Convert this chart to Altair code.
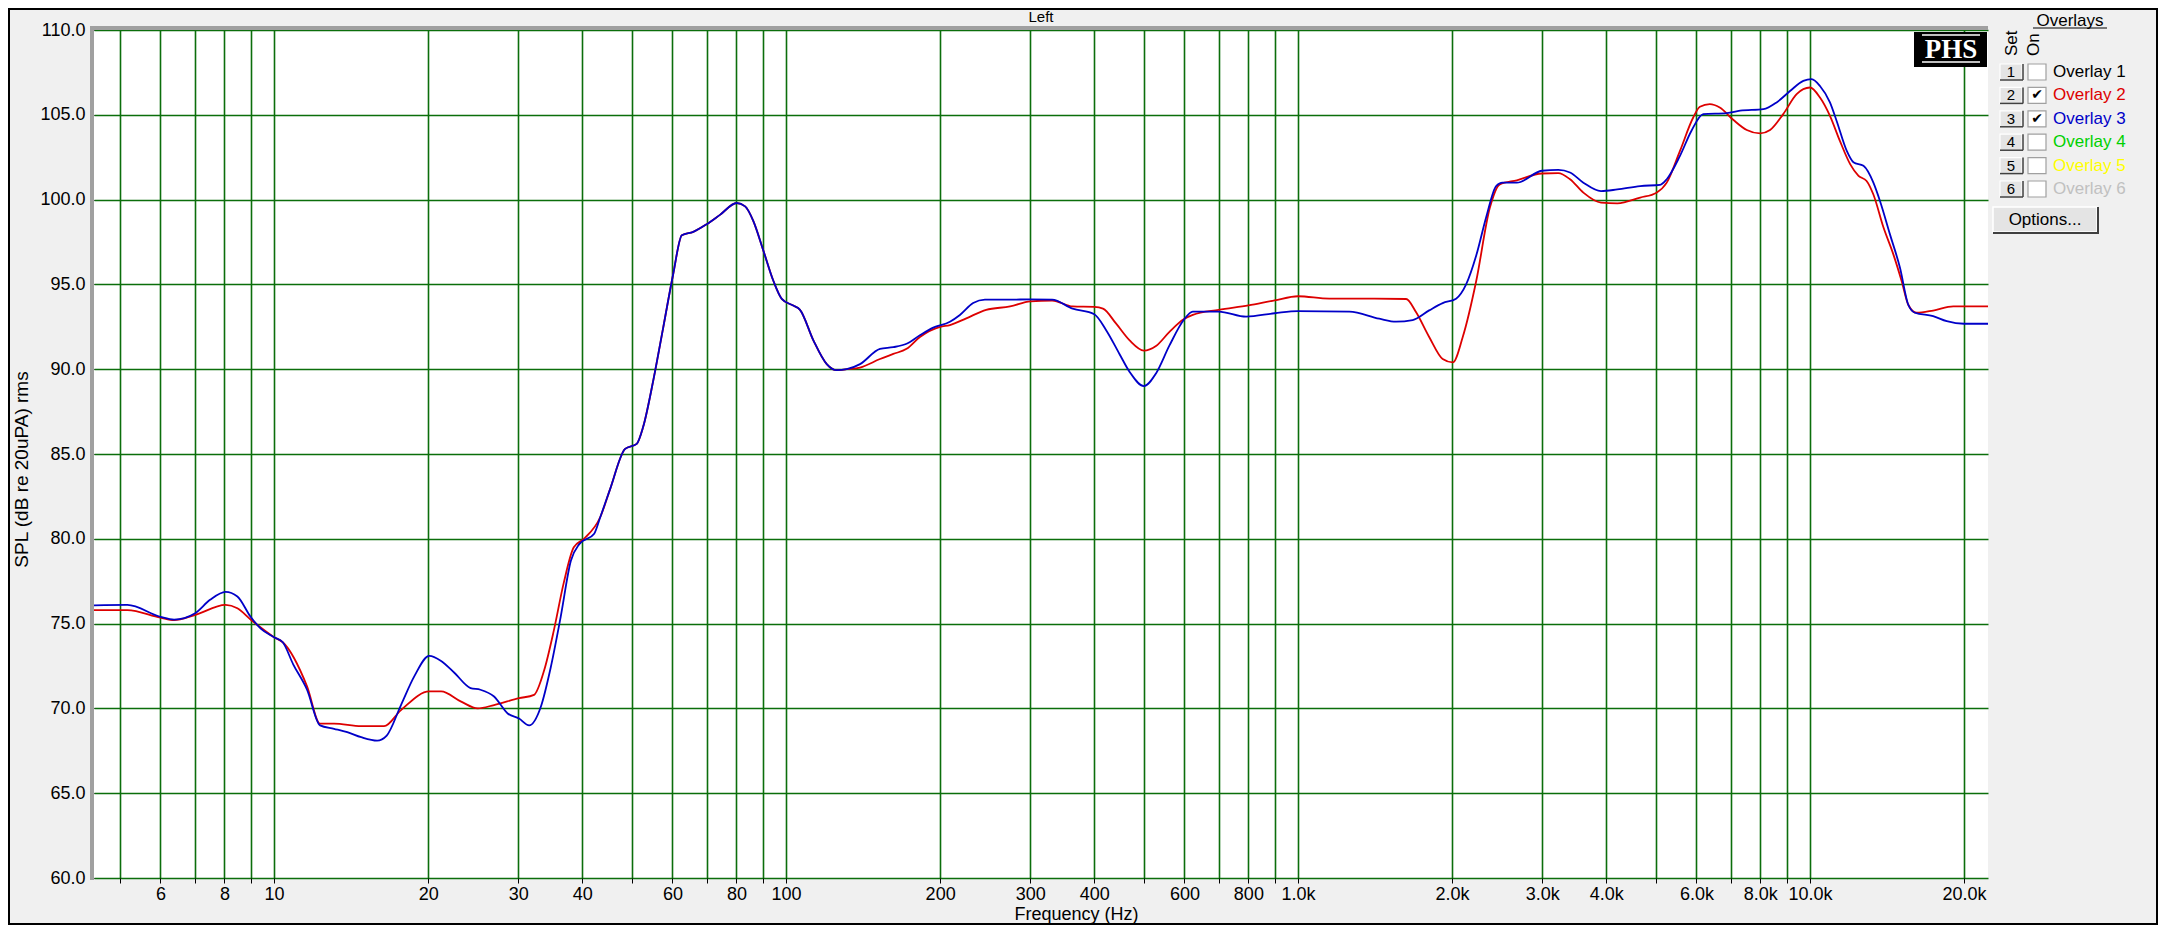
import altair as alt
import pandas as pd

# Overlay 2 (red) - frequency in Hz, level in dB
red_freq = [4.45, 5.17, 6.0, 6.38, 7.0, 8.04, 8.48, 9.0, 10.0, 10.4, 11.6, 12.3, 13.1, 14.8, 16.4,
            17.7, 20.1, 21.2, 23.2, 25.0, 26.9, 30.1, 32.2, 33.7, 35.2, 36.8, 38.5, 40.3,
            43.4, 45.3, 48.5, 51.1, 52.6, 55.1, 57.6, 60.2, 62.6, 65.9, 70.0, 74.3, 80.1, 83.2,
            86.3, 90.3, 94.5, 98.1, 103.3, 106.5, 113.1, 120.1, 125.6, 131.4, 139.5, 152.6, 162,
            172, 182.6, 200, 209, 225, 246, 274, 300, 331, 363, 400, 416, 441, 469, 500, 528,
            561, 598, 623, 700, 800, 900, 1000, 1151, 1338, 1626, 1700, 1804, 1917, 2006, 2098,
            2229, 2369, 2479, 2676, 2995, 3224, 3399, 3609, 3907, 4205, 4660, 5015, 5251, 5573,
            5915, 6095, 6372, 6665, 7089, 7526, 7990, 8357, 8866, 9418, 10000, 10460, 10940,
            11440, 11980, 12440, 12900, 13300, 13920, 14550, 15100, 15560, 16150, 17400, 19050,
            20000, 22270]
red_spl = [75.8, 75.8, 75.35, 75.2, 75.5, 76.1, 75.9, 75.24, 74.2, 73.9, 71.3, 69.1, 69.1, 68.95, 68.95,
           69.9, 71.0, 71.0, 70.4, 70.0, 70.2, 70.6, 70.8, 72.25, 74.6, 77.4, 79.5, 80.0,
           81.3, 82.9, 85.3, 85.6, 86.6, 89.4, 92.5, 95.6, 97.9, 98.1, 98.55, 99.1, 99.8, 99.6,
           98.75, 97.0, 95.2, 94.15, 93.75, 93.5, 91.7, 90.3, 89.94, 90.0, 90.1, 90.6, 90.9,
           91.2, 91.9, 92.5, 92.6, 93.0, 93.5, 93.7, 94.0, 94.05, 93.7, 93.67, 93.57, 92.7, 91.7, 91.1, 91.37,
           92.2, 92.94, 93.2, 93.5, 93.76, 94.06, 94.3, 94.16, 94.16, 94.14, 93.37, 91.9, 90.6, 90.4, 91.9,
           95.2, 99.5, 100.9, 101.14, 101.54, 101.56, 101.2, 100.41, 99.82, 99.78, 100.12, 100.41, 101.0, 102.87,
           104.84, 105.47, 105.63, 105.43, 104.69, 104.1, 103.9, 104.1, 105.04, 106.22, 106.61, 106.02, 104.94,
           103.46, 102.09, 101.4, 101.1, 100.3, 98.35, 96.77, 95.2, 93.8, 93.33, 93.46, 93.7,
           93.7, 93.7]

# Overlay 3 (blue)
blue_freq = [4.45, 5.17, 6.0, 6.38, 7.0, 7.5, 8.04, 8.48, 9.0, 9.42, 10.0, 10.4, 10.9, 11.6, 12.3,
             13.1, 13.9, 14.8, 15.9, 16.6, 17.7, 18.8, 20.1, 21.2, 22.5, 24.2, 25.3, 26.9, 28.6,
             30.1, 31.5, 33.2, 34.7, 36.3, 38.0, 39.5, 42.2,
             43.4, 45.3, 48.5, 51.1, 52.6, 55.1, 57.6, 60.2, 62.6, 65.9, 70.0, 74.3, 80.1, 83.2,
             86.3, 90.3, 94.5, 98.1, 103.3, 106.5, 113.1, 120.1, 125.6, 131.4, 139.5, 152.6, 162,
             172, 182.6, 193.9, 209, 218.6, 232, 244.6, 274, 300, 331, 363, 400, 422, 448, 469, 500,
             528, 561, 598, 623, 700, 792, 900, 1000, 1260, 1441, 1554, 1675, 1804, 1917, 2036,
             2130, 2229, 2331, 2438, 2509, 2676, 2995, 3224, 3399, 3609, 3907, 4205, 4660, 5097,
             5251, 5573, 5869, 6188, 6879, 7303, 8110, 8607, 9141, 9705, 10075, 10460, 10940,
             11270, 11800, 12160, 12720, 13300, 13700, 14330, 14990, 15560, 16030, 17400, 18500,
             20000, 22270]
blue_spl = [76.08, 76.1, 75.4, 75.24, 75.6, 76.4, 76.87, 76.6, 75.4, 74.7, 74.2, 73.9, 72.6, 71.1, 69.0,
            68.8, 68.6, 68.3, 68.1, 68.4, 70.2, 71.9, 73.1, 72.8, 72.1, 71.2, 71.1, 70.7, 69.7,
            69.4, 69.0, 70.1, 72.4, 75.4, 78.7, 79.7, 80.3,
            81.3, 82.9, 85.3, 85.6, 86.6, 89.4, 92.5, 95.6, 97.9, 98.1, 98.55, 99.1, 99.8, 99.6,
            98.75, 97.0, 95.2, 94.15, 93.75, 93.5, 91.7, 90.3, 89.94, 90.0, 90.3, 91.2, 91.3,
            91.5, 92.0, 92.45, 92.8, 93.2, 93.9, 94.1, 94.1, 94.12, 94.1, 93.57, 93.24, 92.3, 90.9, 89.84, 89.0,
            89.75, 91.4, 92.9, 93.4, 93.4, 93.1, 93.3, 93.43, 93.4, 92.98, 92.8, 92.9, 93.47, 93.9, 94.16,
            95.0, 96.7, 98.96, 100.8, 101.0, 101.0, 101.7, 101.75, 101.6, 101.0, 100.5, 100.6, 100.8, 100.87,
            101.2, 102.58, 104.06, 105.04, 105.1, 105.24, 105.33, 105.73, 106.4, 107.0, 107.1, 106.7, 105.73,
            104.65, 102.87, 102.2, 101.99, 101.0, 99.92, 97.95, 95.98, 93.8, 93.33, 93.13, 92.83,
            92.68, 92.68]

grid_freqs = [5, 6, 7, 8, 9, 10, 20, 30, 40, 50, 60, 70, 80, 90, 100, 200, 300, 400, 500, 600, 700,
              800, 900, 1000, 2000, 3000, 4000, 5000, 6000, 7000, 8000, 9000, 10000, 20000]
labeled_freqs = [6, 8, 10, 20, 30, 40, 60, 80, 100, 200, 300, 400, 600, 800, 1000, 2000, 3000,
                 4000, 6000, 8000, 10000, 20000]
spl_ticks = [60, 65, 70, 75, 80, 85, 90, 95, 100, 105, 110]

overlay_names = ['Overlay 1', 'Overlay 2', 'Overlay 3', 'Overlay 4', 'Overlay 5', 'Overlay 6']
overlay_colors = ['#000000', '#dd0000', '#0000c8', '#00d000', '#ffff00', '#c0c0c0']
overlay_checked = [False, True, True, False, False, False]

W, H = 1894, 848
FONT = 'Liberation Sans'
GRID = '#0b6e0b'

df = pd.concat([
    pd.DataFrame({'freq': red_freq, 'spl': red_spl, 'overlay': 'Overlay 2'}),
    pd.DataFrame({'freq': blue_freq, 'spl': blue_spl, 'overlay': 'Overlay 3'}),
])

label_list = ','.join(str(v) for v in labeled_freqs)
x_label_expr = (f"indexof([{label_list}], datum.value) >= 0 ? "
                "(datum.value >= 1000 ? format(datum.value / 1000, '.1f') + 'k' : format(datum.value, 'd')) : ''")

x_enc = alt.X('freq:Q',
              scale=alt.Scale(type='log', domain=[4.45, 22270], nice=False),
              axis=alt.Axis(values=grid_freqs, labelExpr=x_label_expr, title='Frequency (Hz)',
                            grid=True, gridColor=GRID, gridWidth=1.6, gridOpacity=1,
                            domain=False, tickSize=5, tickColor='#000', labelPadding=2,
                            labelFont=FONT, labelFontSize=18, labelColor='#000',
                            labelOverlap=False, labelFlush=False,
                            titleFont=FONT, titleFontSize=18, titleFontWeight='normal',
                            titleColor='#000', titleX=982, titleY=36, titleAlign='center',
                            titleBaseline='middle'))
y_enc = alt.Y('spl:Q',
              scale=alt.Scale(domain=[60, 110], nice=False, zero=False),
              axis=alt.Axis(values=spl_ticks, format='.1f', title='SPL (dB re 20uPA) rms',
                            grid=True, gridColor=GRID, gridWidth=1.6, gridOpacity=1,
                            domain=False, tickSize=4, tickColor='#000', labelPadding=5,
                            labelFont=FONT, labelFontSize=18, labelColor='#000',
                            titleFont=FONT, titleFontSize=19, titleFontWeight='normal',
                            titleColor='#000', titleAngle=270, titleX=-73, titleY=439,
                            titleAlign='center', titleBaseline='middle'))

base = alt.Chart(df).encode(x=x_enc, y=y_enc)
red = base.transform_filter(alt.datum.overlay == 'Overlay 2').mark_line(
    color='#dd0000', strokeWidth=1.8, interpolate='monotone', clip=True)
blue = base.transform_filter(alt.datum.overlay == 'Overlay 3').mark_line(
    color='#0000c8', strokeWidth=1.8, interpolate='monotone', clip=True)
curves = alt.layer(red, blue)

one = pd.DataFrame({'a': [0]})
deco = alt.Chart(one)

# panel title, 3D frame bits and outer border
title_txt = deco.mark_text(text='Left', font=FONT, fontSize=15, baseline='middle').encode(
    x=alt.value(W / 2), y=alt.value(-13))
left_bar = deco.mark_rule(color='#a0a0a0', strokeWidth=4).encode(
    x=alt.value(-2), y=alt.value(-4), y2=alt.value(H + 2))
top_bar = deco.mark_rule(color='#a0a0a0', strokeWidth=4).encode(
    x=alt.value(-4), x2=alt.value(W), y=alt.value(-2))
border = deco.mark_rect(fillOpacity=0, stroke='#000', strokeWidth=2).encode(
    x=alt.value(-85), x2=alt.value(2063), y=alt.value(-21), y2=alt.value(894))

# PHS logo
logo_box = deco.mark_rect(color='#000').encode(
    x=alt.value(1820), x2=alt.value(1893), y=alt.value(2), y2=alt.value(37))
logo_text = deco.mark_text(text='PHS', font='Liberation Serif', fontSize=27, fontWeight='bold',
                           color='#fff', baseline='middle').encode(x=alt.value(1857), y=alt.value(20))
logo_over = deco.mark_rule(color='#fff', strokeWidth=1.5).encode(
    x=alt.value(1828), x2=alt.value(1886), y=alt.value(5))
logo_under = deco.mark_rule(color='#fff', strokeWidth=1.5).encode(
    x=alt.value(1828), x2=alt.value(1886), y=alt.value(32))

# overlay panel
head = deco.mark_text(text='Overlays', font=FONT, fontSize=17, baseline='middle').encode(
    x=alt.value(1976), y=alt.value(-9))
head_line = deco.mark_rule(color='#000', strokeWidth=1).encode(
    x=alt.value(1939), x2=alt.value(2013), y=alt.value(-2))
set_txt = deco.mark_text(text='Set', font=FONT, fontSize=17, angle=270, align='left',
                         baseline='middle').encode(x=alt.value(1918), y=alt.value(26))
on_txt = deco.mark_text(text='On', font=FONT, fontSize=17, angle=270, align='left',
                        baseline='middle').encode(x=alt.value(1940), y=alt.value(26))
opt_btn = deco.mark_rect(fill='#e4e4e4', stroke='#fff', strokeWidth=1.5).encode(
    x=alt.value(1899), x2=alt.value(2003), y=alt.value(177), y2=alt.value(202))
opt_shadow_b = deco.mark_rule(color='#404040', strokeWidth=2).encode(
    x=alt.value(1899), x2=alt.value(2004), y=alt.value(203))
opt_shadow_r = deco.mark_rule(color='#404040', strokeWidth=2).encode(
    x=alt.value(2004), y=alt.value(177), y2=alt.value(204))
opt_txt = deco.mark_text(text='Options...', font=FONT, fontSize=17, baseline='middle').encode(
    x=alt.value(1951), y=alt.value(189.5))

legend_df = pd.DataFrame({'name': overlay_names, 'color': overlay_colors,
                          'checked': overlay_checked, 'row': list(range(6))})
rows = alt.Chart(legend_df).transform_calculate(
    cy='42 + datum.row * 23.4', num='datum.row + 1',
    btop='42 + datum.row * 23.4 - 8', bbot='42 + datum.row * 23.4 + 8')
ypos = alt.Y('cy:Q', scale=None, axis=None)
btn = rows.mark_rect(fill='#e4e4e4', stroke='#fff', strokeWidth=1.2).encode(
    x=alt.value(1906), x2=alt.value(1928),
    y=alt.Y('btop:Q', scale=None, axis=None), y2='bbot:Q')
btn_shadow_b = rows.mark_rule(color='#404040', strokeWidth=1.5).encode(
    x=alt.value(1906), x2=alt.value(1929), y=alt.Y('bbot:Q', scale=None, axis=None))
btn_shadow_r = rows.mark_rule(color='#404040', strokeWidth=1.5).encode(
    x=alt.value(1929), y=alt.Y('btop:Q', scale=None, axis=None), y2='bbot:Q')
btn_txt = rows.mark_text(font=FONT, fontSize=15, baseline='middle').encode(
    x=alt.value(1917), y=ypos, text='num:N')
box = rows.mark_rect(fill='#fff', stroke='#a0a0a0', strokeWidth=1.2).encode(
    x=alt.value(1934), x2=alt.value(1952),
    y=alt.Y('btop:Q', scale=None, axis=None), y2='bbot:Q')
tick = rows.transform_filter('datum.checked').mark_text(
    text='\u2714', font='DejaVu Sans', fontSize=14, baseline='middle', color='#000').encode(
    x=alt.value(1943), y=ypos)
names = rows.mark_text(font=FONT, fontSize=17, align='left', baseline='middle').encode(
    x=alt.value(1959), y=ypos, text='name:N', color=alt.Color('color:N', scale=None, legend=None))

chart = alt.layer(
    curves, title_txt, left_bar, top_bar, border, logo_box, logo_text, logo_over, logo_under,
    head, head_line, set_txt, on_txt, opt_btn, opt_shadow_b, opt_shadow_r, opt_txt,
    btn, btn_shadow_b, btn_shadow_r, btn_txt, box, tick, names
).resolve_scale(
    x='independent', y='independent', color='independent'
).properties(
    width=W, height=H,
    autosize=alt.AutoSizeParams(type='none'),
    padding={'left': 86, 'top': 22, 'right': 170, 'bottom': 47},
    background='#f0f0f0'
).configure_view(
    fill='#fff', stroke=None
)

chart.save('out.html', embed_options={'renderer': 'svg', 'actions': False})
